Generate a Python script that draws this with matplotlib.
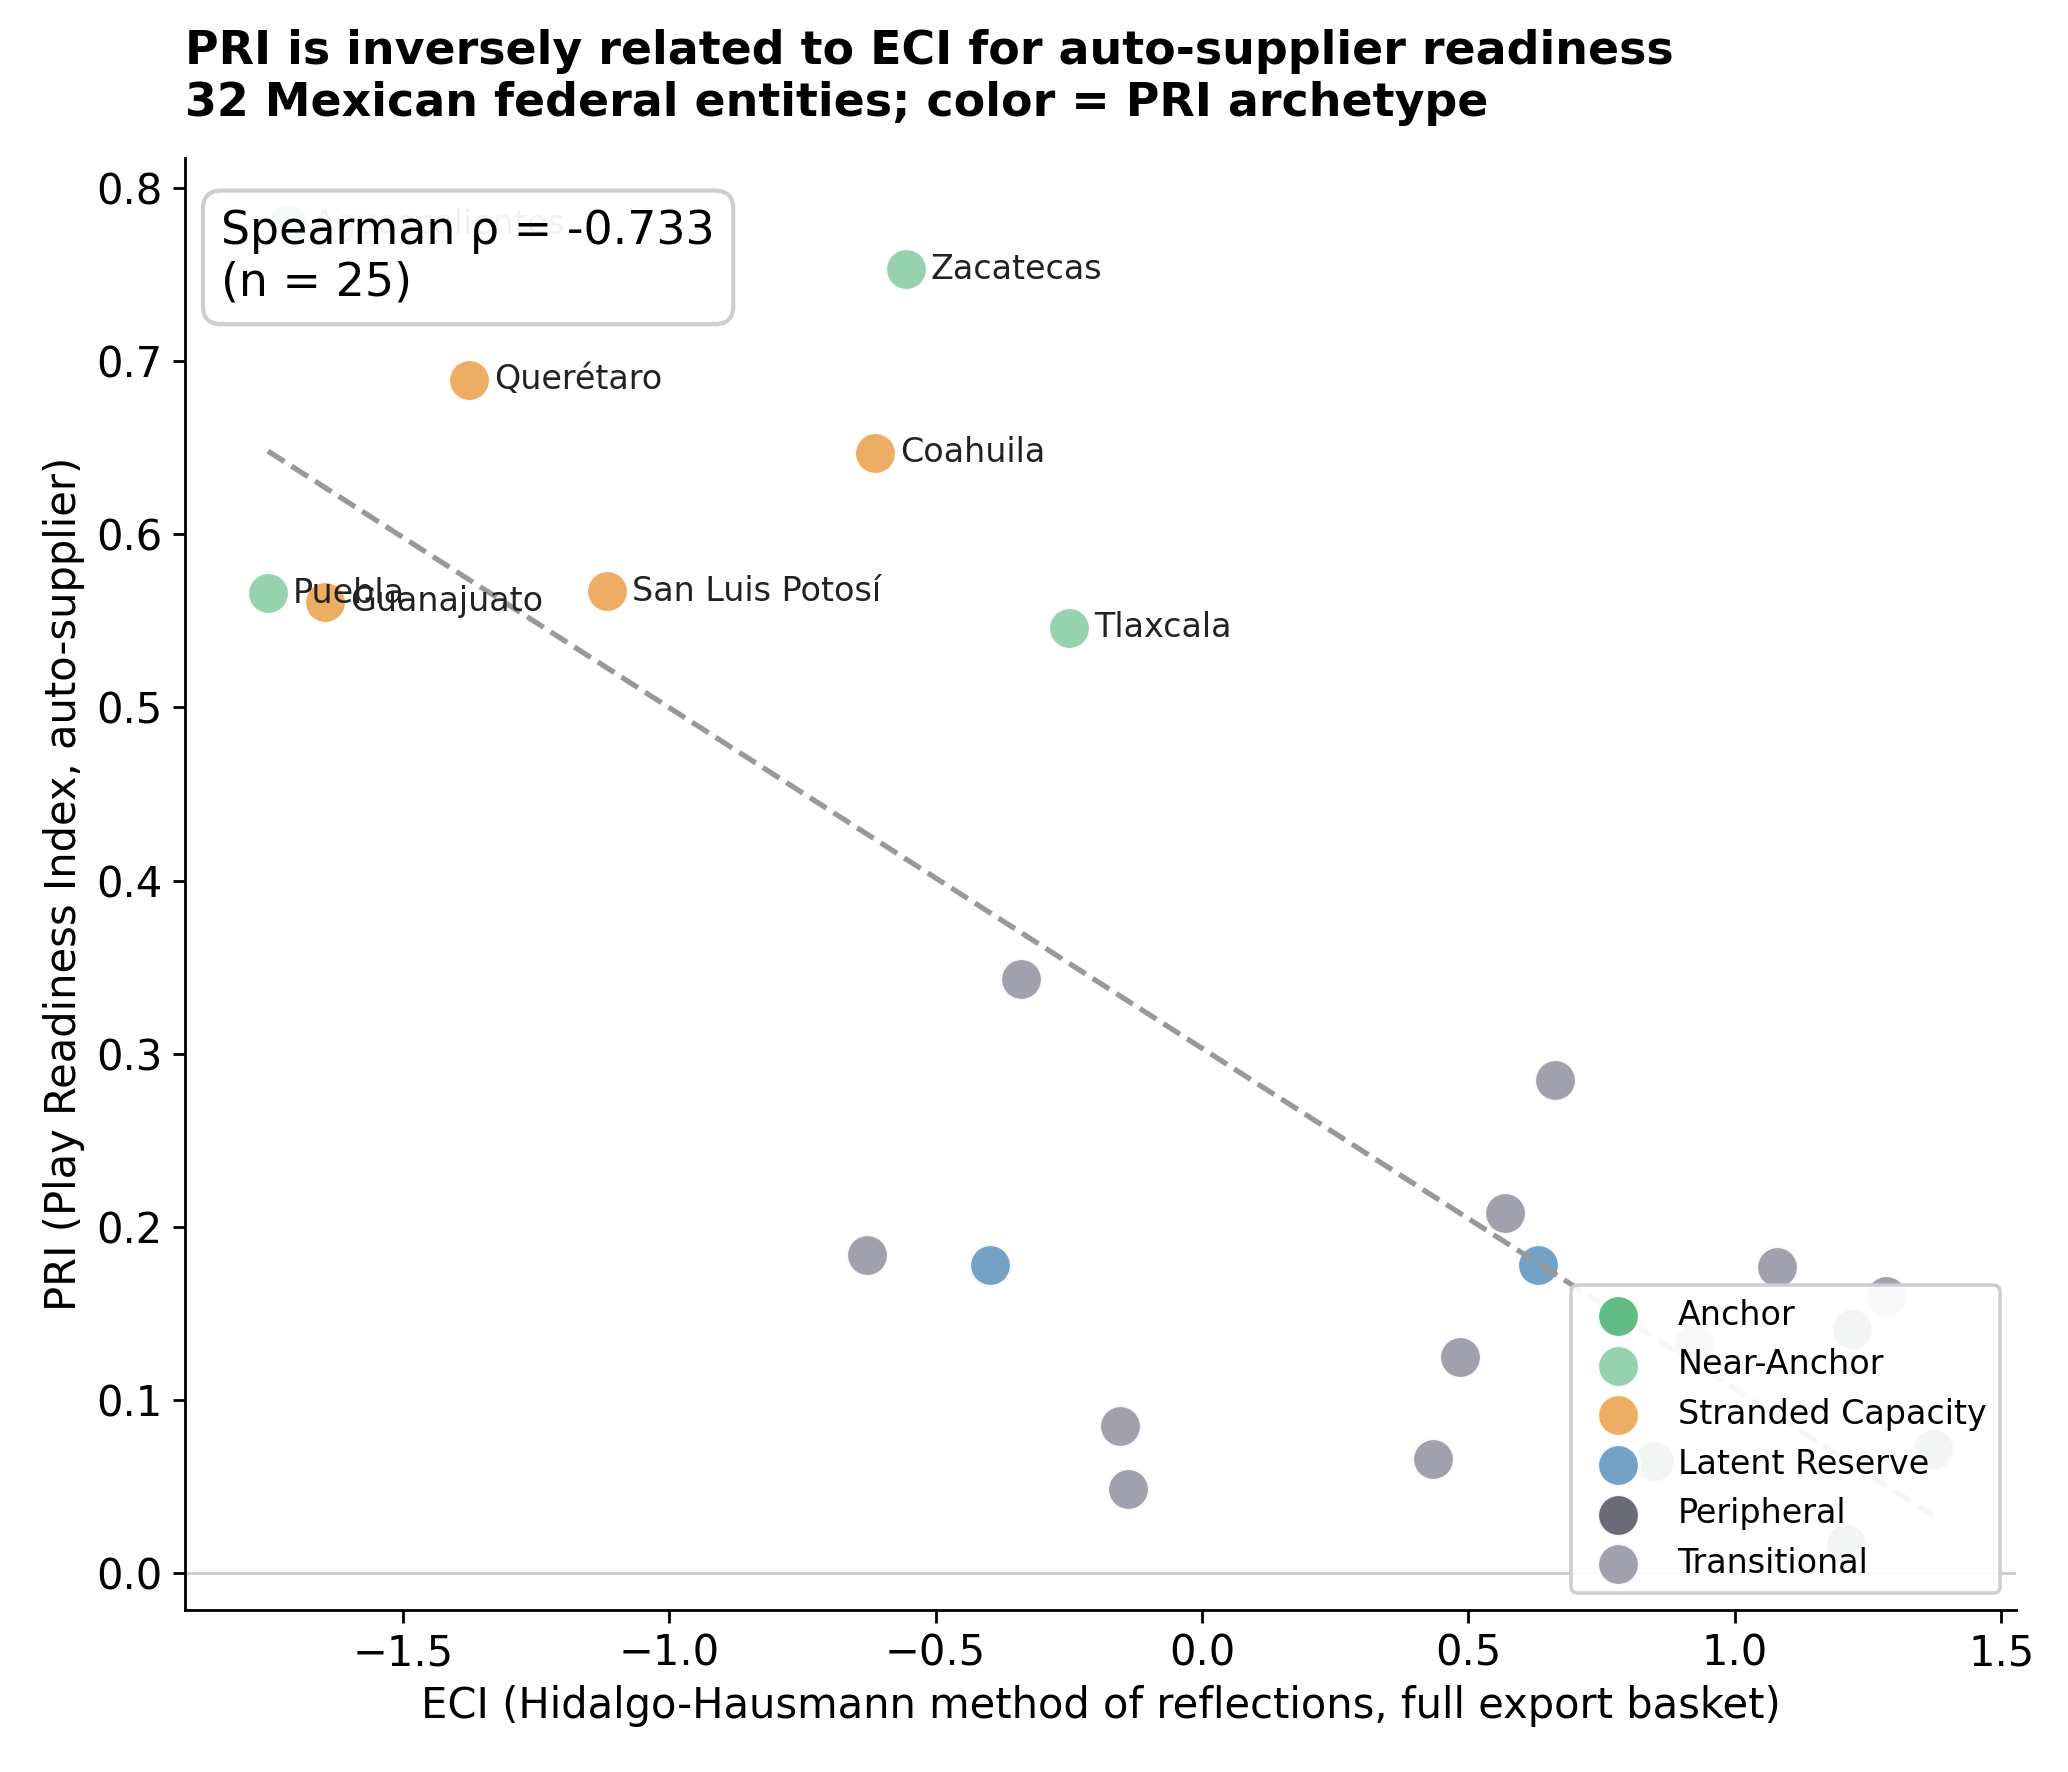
import matplotlib
matplotlib.use("Agg")
import matplotlib.pyplot as plt
import numpy as np

# ECI vs PRI per state
states = ["Aguascalientes", "Zacatecas", "Querétaro", "Coahuila", "Puebla",
          "Guanajuato", "San Luis Potosí", "Tlaxcala",
          "", "", "", "", "", "", "", "", "", "", "",
          "", "", "", "", "", ""]
eci = [-1.715, -0.556, -1.375, -0.613, -1.753, -1.646, -1.117, -0.250,
       -0.339, 0.663, 0.569, 0.630, 1.080, -0.628, -0.398, 0.485, -0.153, -0.138, 0.433,
       1.284, 1.219, 0.923, 0.848, 1.372, 1.209]
pri = [0.779, 0.753, 0.689, 0.647, 0.566, 0.561, 0.567, 0.546,
       0.343, 0.285, 0.208, 0.178, 0.177, 0.184, 0.178, 0.125, 0.085, 0.049, 0.066,
       0.160, 0.141, 0.132, 0.065, 0.072, 0.017]
archetype = ["Anchor", "Near-Anchor", "Stranded Capacity", "Stranded Capacity", "Near-Anchor",
             "Stranded Capacity", "Stranded Capacity", "Near-Anchor",
             "Transitional", "Transitional", "Transitional", "Latent Reserve", "Transitional",
             "Transitional", "Latent Reserve", "Transitional", "Transitional", "Transitional",
             "Transitional",
             "Transitional", "Peripheral", "Transitional", "Peripheral", "Peripheral", "Peripheral"]

order = ["Anchor", "Near-Anchor", "Stranded Capacity", "Latent Reserve", "Peripheral", "Transitional"]
palette = {
    "Anchor": "#59b982",
    "Near-Anchor": "#90d0a9",
    "Stranded Capacity": "#eca95a",
    "Latent Reserve": "#6c9cc3",
    "Peripheral": "#62636f",
    "Transitional": "#9c9bab",
}

spearman_rho = -0.733

eci = np.array(eci)
pri = np.array(pri)
arch = np.array(archetype)

plt.rcParams["axes.linewidth"] = 1.0
plt.rcParams["xtick.major.width"] = 1.0
plt.rcParams["ytick.major.width"] = 1.0
plt.rcParams["xtick.major.size"] = 4.5
plt.rcParams["ytick.major.size"] = 4.5

fig = plt.figure(figsize=(10.34, 8.86), dpi=200)
ax = fig.add_axes([0.0893, 0.0914, 0.8857, 0.8194])

for a in order:
    m = arch == a
    ax.scatter(eci[m], pri[m], s=230, color=palette[a], edgecolor="white",
               linewidth=1.2, alpha=0.95, label=a, zorder=3)

# OLS trend line
slope, intercept = np.polyfit(eci, pri, 1)
xs = np.array([eci.min(), eci.max()])
ax.plot(xs, slope * xs + intercept, linestyle="--", color="#999999",
        linewidth=1.9, zorder=4)

# limits from data with 5% margins (zero line added afterwards)
xr = eci.max() - eci.min()
yr = pri.max() - pri.min()
ax.set_xlim(eci.min() - 0.05 * xr, eci.max() + 0.05 * xr)
ax.set_ylim(pri.min() - 0.05 * yr, pri.max() + 0.05 * yr)
ax.axhline(0, color="#cccccc", linewidth=1.0, zorder=1)

for name, x, y in zip(states, eci, pri):
    if name:
        ax.annotate(name, (x, y), xytext=(9, 0), textcoords="offset points",
                    va="center", fontsize=12, color="#222222", zorder=5)

ax.text(0.02, 0.965, f"Spearman ρ = {spearman_rho:.3f}\n(n = {len(eci)})",
        transform=ax.transAxes, va="top", ha="left", fontsize=16.5, zorder=6,
        bbox=dict(boxstyle="round,pad=0.4", facecolor="white", edgecolor="#cccccc",
                  linewidth=1.5, alpha=0.95))

ax.set_xlabel("ECI (Hidalgo-Hausmann method of reflections, full export basket)", fontsize=15)
ax.set_ylabel("PRI (Play Readiness Index, auto-supplier)", fontsize=15)
ax.tick_params(labelsize=15)
ax.spines["top"].set_visible(False)
ax.spines["right"].set_visible(False)

leg = ax.legend(loc="lower right", fontsize=12, framealpha=0.93, markerscale=1.0,
                edgecolor="#cccccc")
leg.get_frame().set_linewidth(1.3)
leg.set_zorder(7)

ax.set_title("PRI is inversely related to ECI for auto-supplier readiness\n"
             "32 Mexican federal entities; color = PRI archetype",
             loc="left", fontsize=16.5, fontweight="bold", pad=15)

fig.savefig("out.png", dpi=200)
